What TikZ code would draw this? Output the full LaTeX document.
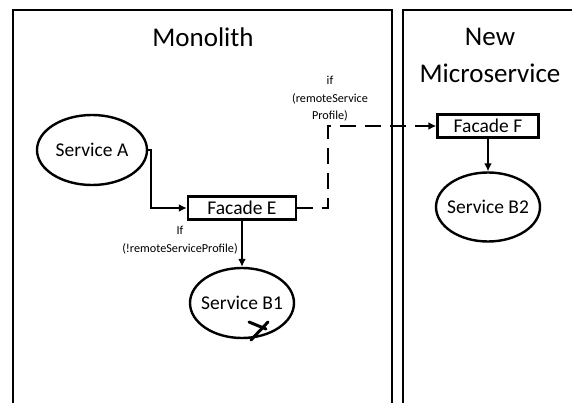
\documentclass[tikz,border=0pt]{standalone}
\usepackage{fontspec}
\setmainfont{Carlito}
\usetikzlibrary{shapes.geometric,arrows.meta}
\begin{document}
\begin{tikzpicture}[x=1pt,y=-1pt,
    service/.style={draw,ellipse,line width=2.4pt,minimum width=104pt,minimum height=70pt,inner xsep=-8pt,inner ysep=0pt,font=\fontsize{19.5}{23}\selectfont},
    facade/.style={draw,rectangle,line width=2.4pt,minimum height=23pt,inner sep=0pt,font=\fontsize{19.5}{23}\selectfont},
    flow/.style={line width=2.4pt,-{Latex[length=8pt,width=8pt]}},
    cond/.style={align=center,font=\fontsize{12.2}{17.5}\selectfont}]
            \useasboundingbox (0,0) rectangle (572,403);
            \draw[line width=2.4pt] (13,410) -- (13,10) -- (392,10) -- (392,410);
            \draw[line width=2.4pt] (403,410) -- (403,10) -- (580,10);
            \node[font=\fontsize{27}{37}\selectfont] (monolith) at (203,37) {Monolith};
            \node[font=\fontsize{27}{37}\selectfont,align=center] (micro) at (490,55) {New\\Microservice};
            \node[service,minimum width=110pt] (serviceA) at (92,150) {Service A};
            \node[facade,minimum width=108pt] (facadeE) at (242,208) {Facade E};
            \node[service] (serviceB1) at (242,303) {Service B1};
            \node[facade,minimum width=101pt] (facadeF) at (488,126) {Facade F};
            \node[service,minimum height=69pt] (serviceB2) at (488,207) {Service B2};
            \coordinate (bend) at (328,208);
            \draw[flow] (serviceA.east) -- ++(3,0) |- (facadeE.west);
            \draw[flow] (facadeE.south) -- (serviceB1.north);
            \draw[flow,dash pattern=on 16pt off 9pt] (facadeE.east) -- (bend) |- (facadeF.west);
            \draw[flow] (facadeF.south) -- (serviceB2.north);
            \node[cond] (remote) at (330,99) {if\\(remoteService\\Profile)};
            \node[cond] (local) at (180,240) {If\\(!remoteServiceProfile)};
            \draw[line width=3pt,line cap=round] (249,322) -- (266,329);
            \draw[line width=3pt,line cap=round] (251,340) -- (268,322);
\end{tikzpicture}
\end{document}
